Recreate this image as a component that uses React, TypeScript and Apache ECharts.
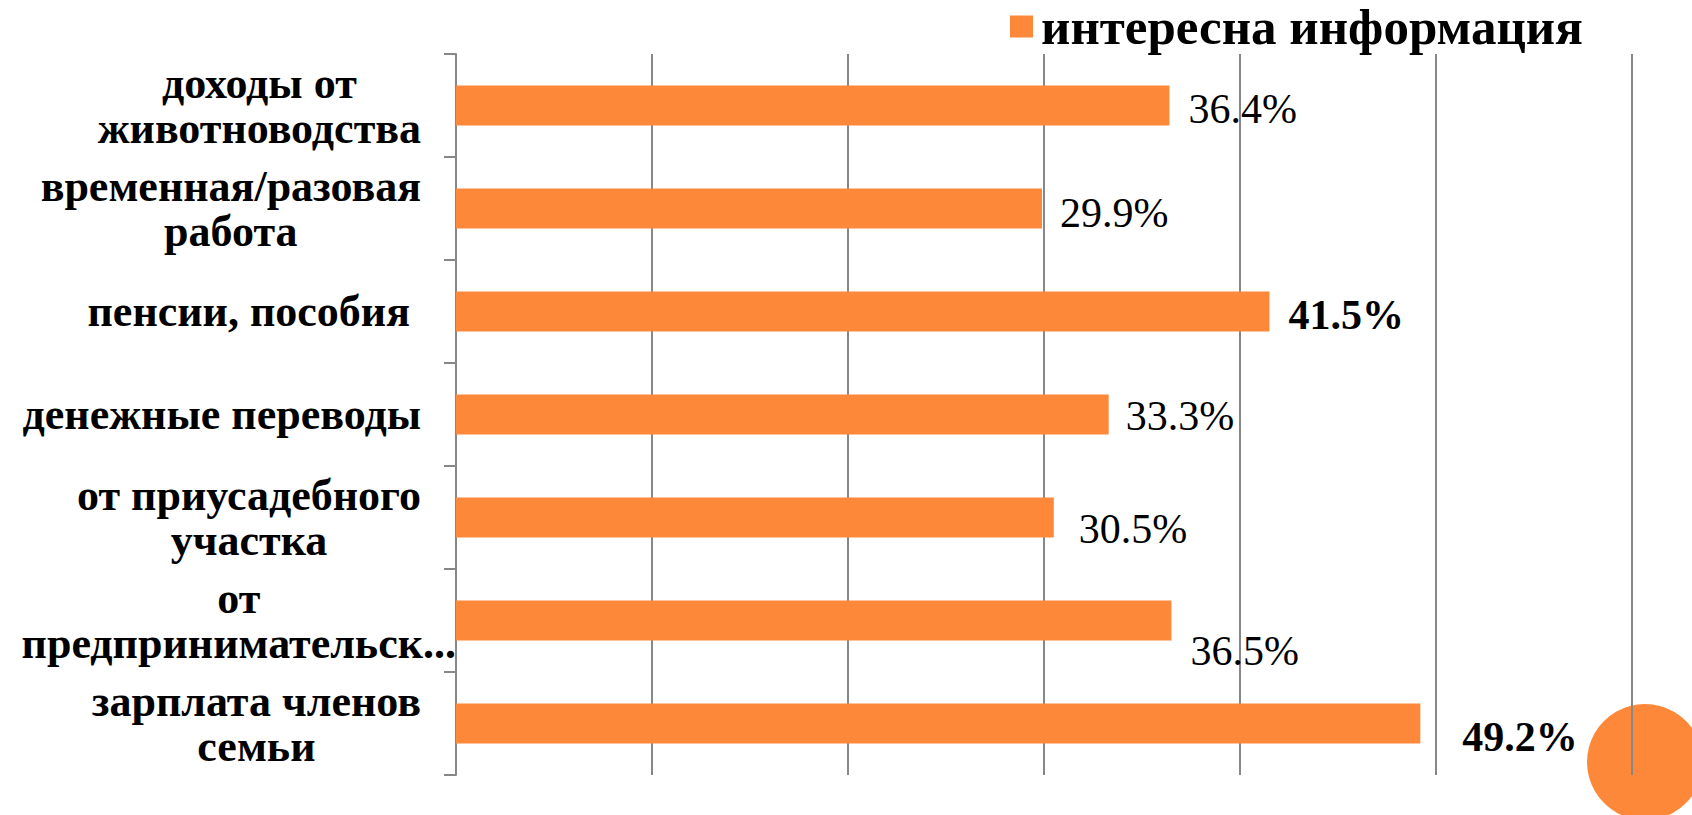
import React, { useEffect, useRef } from "react";
import * as echarts from "echarts";

// ---- data ----
const categories: string[] = [
  "доходы от\nживотноводства",
  "временная/разовая\nработа",
  "пенсии, пособия ",
  "денежные переводы",
  "от приусадебного\nучастка",
  "от\nпредпринимательск...",
  "зарплата членов\nсемьи",
];
const seriesName = "интересна информация";
const values: number[] = [36.4, 29.9, 41.5, 33.3, 30.5, 36.5, 49.2];
const boldLabel: boolean[] = [false, false, true, false, false, false, true];
const axisMin = 0;
const axisMax = 60;
const axisStep = 10;

// ---- layout / style (not data) ----
const labelNudge: [number, number][] = [
  [14, 3],
  [13, 4],
  [14, 3],
  [12, 1],
  [20, 11],
  [14, 30],
  [37, 13],
];
const ORANGE = "#FE8839";
const GRAY = "#878787";
const SERIF = "Liberation Serif";

export default function App() {
  const ref = useRef<HTMLDivElement>(null);

  useEffect(() => {
    const chart = echarts.init(ref.current as HTMLDivElement, null, { renderer: "svg" });
    const catFont = { fontFamily: SERIF, fontWeight: "bold" as const, fontSize: 44, lineHeight: 45, color: "#000" };

    chart.setOption({
      animation: false,
      legend: {
        data: [seriesName],
        left: 1005,
        top: -4,
        itemWidth: 23,
        itemHeight: 22,
        icon: "rect",
        textStyle: {
          fontFamily: SERIF,
          fontWeight: "bold",
          fontSize: 51,
          lineHeight: 22,
          color: "#000",
          padding: [0, 0, 0, 3],
        },
      },
      grid: { left: 456, right: 60, top: 54, bottom: 40, containLabel: false, outerBoundsMode: "none" },
      xAxis: {
        type: "value",
        min: axisMin,
        max: axisMax,
        interval: axisStep,
        axisLabel: { show: false },
        axisLine: { show: false },
        axisTick: { show: false },
        splitLine: { show: true, lineStyle: { color: GRAY, width: 2 } },
      },
      yAxis: {
        type: "category",
        inverse: true,
        data: categories,
        axisLine: { show: true, lineStyle: { color: GRAY, width: 2 } },
        axisTick: { show: true, length: 12, lineStyle: { color: GRAY, width: 2 } },
        axisLabel: {
          interval: 0,
          margin: 0,
          align: "right",
          ...catFont,
          formatter: (v: string) => {
            const key = v.indexOf("...") >= 0 ? "e" : "c";
            return v
              .split("\n")
              .map((l) => `{${key}|${l}}`)
              .join("\n");
          },
          rich: {
            c: { ...catFont, align: "center", padding: [0, 35, 0, 0] },
            e: { ...catFont, align: "center" },
          },
        },
      },
      series: [
        {
          type: "bar",
          name: seriesName,
          barWidth: 40,
          itemStyle: { color: ORANGE },
          label: {
            show: true,
            position: "right",
            distance: 5,
            fontFamily: SERIF,
            fontSize: 42,
            color: "#000",
            formatter: (p: any) => `${Number(p.value).toFixed(1)}%`,
          },
          data: values.map((v, i) => ({
            value: v,
            label: { offset: labelNudge[i], fontWeight: boldLabel[i] ? "bold" : "normal" },
          })),
        },
      ],
      graphic: [
        {
          type: "circle",
          z: -10,
          shape: { cx: 1645, cy: 762, r: 58 },
          style: { fill: ORANGE },
        },
      ],
    });
    return () => chart.dispose();
  }, []);

  return <div ref={ref} style={{ position: "absolute", left: 0, top: 0, width: 1692, height: 815 }} />;
}
